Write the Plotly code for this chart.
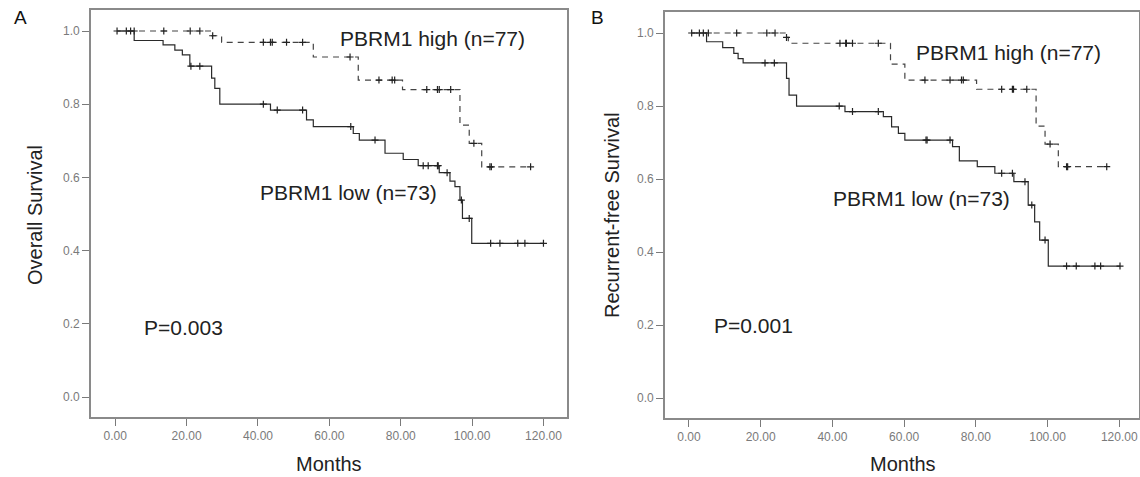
import plotly.graph_objects as go

# ---------------- data ----------------
# Panel A - Overall survival
a_high_event_t = [27.0, 29.8, 55.5, 68.1, 80.5, 96.6, 99.2, 102.7]
a_high_event_s = [0.987, 0.969, 0.929, 0.866, 0.840, 0.743, 0.693, 0.629]
a_high_cens_t = [0.5, 3.1, 4.3, 5.3, 13.6, 21.0, 23.7, 27.3, 41.5, 43.5, 44.0, 48.0,
                 52.5, 65.8, 73.9, 77.6, 78.3, 87.3, 90.3, 90.8, 94.0, 100.5, 105.0,
                 105.4, 116.4]

a_low_event_t = [5.3, 13.4, 16.7, 18.8, 20.9, 27.0, 27.9, 29.3, 43.5, 53.6, 55.5, 66.7,
                 68.4, 75.6, 80.7, 84.9, 90.8, 93.8, 95.2, 96.6, 97.3, 99.9]
a_low_event_s = [0.974, 0.962, 0.948, 0.935, 0.904, 0.871, 0.843, 0.800, 0.784, 0.757,
                 0.739, 0.720, 0.702, 0.666, 0.649, 0.632, 0.613, 0.590, 0.575, 0.538,
                 0.488, 0.420]
a_low_cens_t = [21.2, 23.7, 41.5, 45.4, 52.5, 66.0, 72.8, 86.3, 87.7, 90.3, 90.5, 93.0,
                97.0, 99.2, 105.2, 107.8, 112.8, 114.8, 120.0]

# Panel B - Recurrent-free survival
b_high_event_t = [27.0, 27.7, 56.2, 60.2, 80.2, 96.8, 99.3, 103.0]
b_high_event_s = [0.988, 0.972, 0.915, 0.871, 0.846, 0.745, 0.696, 0.634]
b_high_cens_t = [0.75, 2.9, 4.0, 5.4, 13.3, 21.7, 24.0, 27.2, 42.1, 43.7, 43.9, 45.6,
                 52.8, 65.8, 72.8, 76.0, 76.5, 87.2, 90.2, 90.5, 94.2, 100.7, 105.3,
                 105.6, 116.5]

b_low_event_t = [4.9, 9.4, 12.5, 13.7, 15.1, 27.2, 27.9, 30.0, 43.5, 54.2, 56.5, 58.4,
                 60.2, 73.5, 75.4, 80.4, 85.3, 90.6, 94.6, 96.4, 97.8, 100.2]
b_low_event_s = [0.976, 0.960, 0.944, 0.930, 0.918, 0.876, 0.830, 0.800, 0.785, 0.771,
                 0.743, 0.725, 0.707, 0.689, 0.650, 0.634, 0.616, 0.593, 0.529, 0.483,
                 0.433, 0.362]
b_low_cens_t = [21.2, 23.8, 41.9, 45.6, 52.8, 66.1, 66.4, 72.8, 87.2, 90.2, 93.7, 95.6,
                99.3, 105.3, 108.0, 113.2, 114.8, 120.2]

start_a = 0.5
start_b = 0.75

y_ticks = [0.0, 0.2, 0.4, 0.6, 0.8, 1.0]
x_ticks = [0, 20, 40, 60, 80, 100, 120]

labels = {
    "a_high": "PBRM1 high (n=77)", "a_low": "PBRM1 low (n=73)", "a_p": "P=0.003",
    "b_high": "PBRM1 high (n=77)", "b_low": "PBRM1 low (n=73)", "b_p": "P=0.001",
}

# ---------------- helpers ----------------
W, H = 1140, 477
FONT = "Liberation Sans, Arial, sans-serif"


def px(x):
    return x / W


def py(y):
    return 1 - y / H


def surv_at(ev_t, ev_s, t):
    s = 1.0
    for tt, ss in zip(ev_t, ev_s):
        if tt <= t:
            s = ss
    return s


def add_curve(fig, ev_t, ev_s, cens_t, start, xa, ya, dash, color):
    end = max(cens_t + ev_t)
    xs = [start] + ev_t + [end]
    ys = [1.0] + ev_s + [ev_s[-1]]
    fig.add_trace(go.Scatter(x=xs, y=ys, mode="lines", line_shape="hv",
                             line=dict(color=color, width=1.2, dash=dash),
                             xaxis=xa, yaxis=ya, showlegend=False, hoverinfo="skip"))
    cy = [surv_at(ev_t, ev_s, t) for t in cens_t]
    fig.add_trace(go.Scatter(x=cens_t, y=cy, mode="markers",
                             marker=dict(symbol="cross-thin", size=5,
                                         line=dict(color="#222222", width=1.2)),
                             xaxis=xa, yaxis=ya, showlegend=False, hoverinfo="skip"))


fig = go.Figure()
add_curve(fig, a_high_event_t, a_high_event_s, a_high_cens_t, start_a, "x", "y", "6px,5px", "#444444")
add_curve(fig, a_low_event_t, a_low_event_s, a_low_cens_t, start_a, "x", "y", "solid", "#2a2a2a")
add_curve(fig, b_high_event_t, b_high_event_s, b_high_cens_t, start_b, "x2", "y2", "6px,5px", "#444444")
add_curve(fig, b_low_event_t, b_low_event_s, b_low_cens_t, start_b, "x2", "y2", "solid", "#2a2a2a")

axis_common = dict(showline=True, mirror=True, linecolor="#8a8a8a", linewidth=1.6,
                   ticks="outside", ticklen=7, tickwidth=1.3, tickcolor="#7a7a7a",
                   showgrid=False, zeroline=False,
                   tickfont=dict(family=FONT, size=12, color="#7a7a7a"))

fig.update_layout(
    width=W, height=H,
    margin=dict(l=0, r=0, t=0, b=0),
    paper_bgcolor="white", plot_bgcolor="white",
    xaxis=dict(domain=[px(91), px(567)], range=[-6.8, 126.6], tickvals=x_ticks,
               tickformat=".2f", anchor="y", **axis_common),
    yaxis=dict(domain=[py(417), py(10)], range=[-0.0546, 1.0574], tickvals=y_ticks,
               tickformat=".1f", anchor="x", **axis_common),
    xaxis2=dict(domain=[px(665), px(1139)], range=[-6.69, 125.5], tickvals=x_ticks,
                tickformat=".2f", anchor="y2", **axis_common),
    yaxis2=dict(domain=[py(418), py(12)], range=[-0.054, 1.0575], tickvals=y_ticks,
                tickformat=".1f", anchor="x2", **axis_common),
)


def ann(text, x, y, xanchor="left", angle=0, size=21, color="#222222"):
    fig.add_annotation(text=text, x=px(x), y=py(y), xref="paper", yref="paper",
                       xanchor=xanchor, yanchor="middle", showarrow=False,
                       textangle=angle,
                       font=dict(family=FONT, size=size, color=color))


# panel letters
ann("A", 20, 18, xanchor="center", size=19, color="#111111")
ann("B", 597, 18, xanchor="center", size=19, color="#111111")

# curve labels and p-values
ann(labels["a_high"], 338, 38)
ann(labels["a_low"], 258, 192)
ann(labels["a_p"], 142, 327)
ann(labels["b_high"], 914, 52)
ann(labels["b_low"], 831, 198)
ann(labels["b_p"], 712, 325)

# axis titles
ann("Overall Survival", 35, 215, xanchor="center", angle=-90, size=20)
ann("Recurrent-free Survival", 612, 215, xanchor="center", angle=-90, size=20)
ann("Months", 329, 464, xanchor="center", size=20)
ann("Months", 903, 464, xanchor="center", size=20)

fig.write_html("out.html",
               config={"displayModeBar": False},
               post_script="document.body.style.margin='0px';"
                           "document.body.style.overflow='hidden';")
